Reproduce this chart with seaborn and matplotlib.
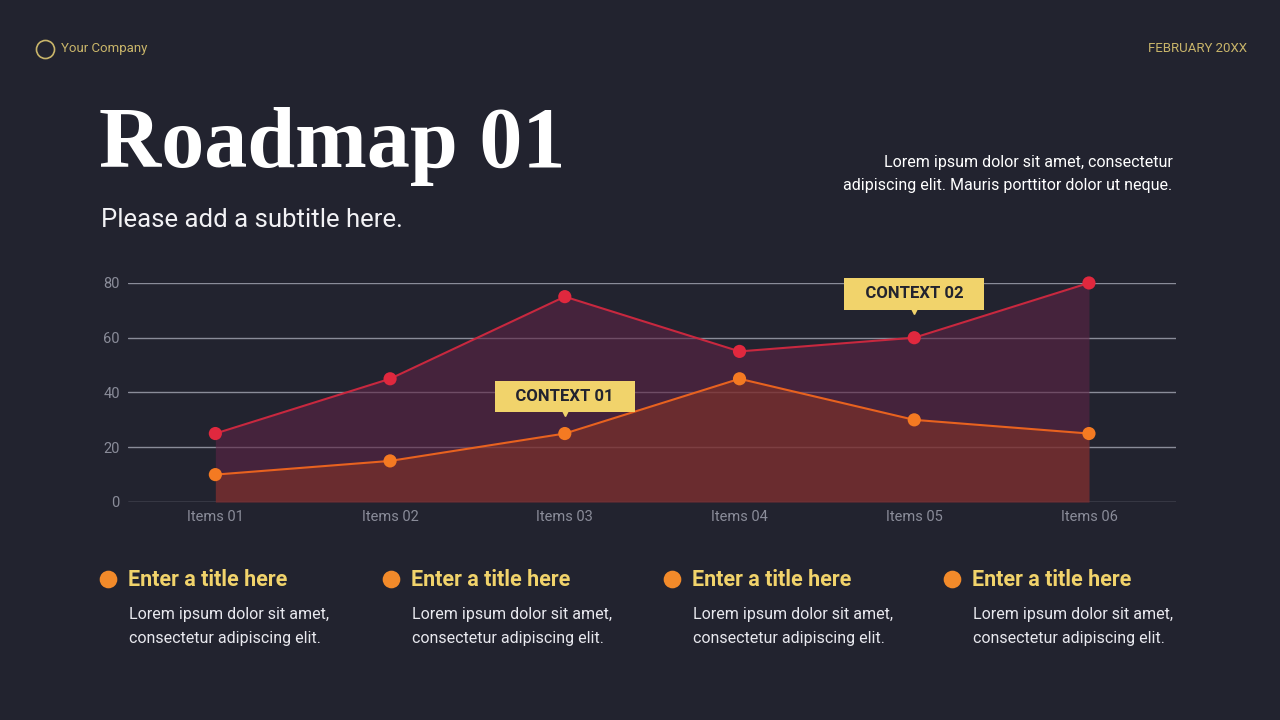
import matplotlib
matplotlib.use("Agg")
import matplotlib.pyplot as plt
import seaborn as sns
import pandas as pd
from matplotlib.lines import Line2D

categories = ["Items 01", "Items 02", "Items 03", "Items 04", "Items 05", "Items 06"]
series_a = [25, 45, 75, 55, 60, 80]
series_b = [10, 15, 25, 45, 30, 25]
yticks = [0, 20, 40, 60, 80]
card_titles = ["Enter a title here"] * 4
card_text = "Lorem ipsum dolor sit amet,\nconsectetur adipiscing elit."

BG = "#22232f"
RED = "#e0283e"
ORANGE = "#f47a22"
GOLD = "#f1d36b"

sns.set_theme(style="dark", rc={"font.family": "Roboto"})
fig = plt.figure(figsize=(12.8, 7.2), dpi=100, facecolor=BG)
ax = fig.add_axes([0.1, 0.3028, 0.819, 0.3042])
ax.set_facecolor(BG)

df = pd.DataFrame({"x": range(len(categories)), "a": series_a, "b": series_b})
ax.fill_between(df["x"], df["a"], color="#5e2345", alpha=0.6, lw=0, zorder=1)
ax.fill_between(df["x"], df["b"], color="#8a3526", alpha=0.55, lw=0, zorder=2)
sns.lineplot(data=df, x="x", y="a", ax=ax, color="#c8283f", lw=1.5, zorder=3)
sns.lineplot(data=df, x="x", y="b", ax=ax, color="#e8621f", lw=1.5, zorder=3)
sns.scatterplot(data=df, x="x", y="a", ax=ax, color=RED, s=90, edgecolor="none", zorder=4)
sns.scatterplot(data=df, x="x", y="b", ax=ax, color=ORANGE, s=90, edgecolor="none", zorder=4)
for c in ax.collections:
    c.set_clip_on(False)

ax.set_xlim(-0.5, 5.5)
ax.set_ylim(0, 80)
ax.set_xticks(range(len(categories)))
ax.set_xticklabels(categories)
ax.set_yticks(yticks)
ax.set_xlabel("")
ax.set_ylabel("")
for y in yticks:
    ax.axhline(y, color="#8a8c99", lw=1, zorder=0.5)
for s in ax.spines.values():
    s.set_visible(False)
ax.tick_params(colors="#8a8c99", labelsize=10.5, length=0, pad=6)
ax.grid(False)

def callout(xi, yv, label):
    ax.text(xi, yv, "   " + label + "   ", fontsize=12, fontweight="bold",
            color="#22232f", ha="center", va="center", zorder=6,
            bbox=dict(boxstyle="square,pad=0.5", fc=GOLD, ec="none"))
    ax.plot([xi], [yv - 5.8], marker="v", color=GOLD, ms=6, zorder=6, clip_on=False)
callout(2, 38.5, "CONTEXT 01")
callout(4, 76, "CONTEXT 02")

def dot(x, y, color, ms, fill=True):
    fig.add_artist(Line2D([x / 1280], [1 - y / 720], transform=fig.transFigure, marker="o",
                          ms=ms, color=color, mfc=color if fill else "none", mew=1.2, ls=""))

dot(45, 49, "#c9b56a", 13, fill=False)
fig.text(0.0477, 0.932, "Your Company", color="#c9b56a", fontsize=9.5, va="center")
fig.text(0.974, 0.932, "FEBRUARY 20XX", color="#c9b56a", fontsize=9.5, va="center", ha="right")
fig.text(0.077, 0.797, "Roadmap 01", color="white", fontsize=62, family="Liberation Serif",
         fontweight="bold", va="center")
fig.text(0.079, 0.695, "Please add a subtitle here.", color="#f2f2f5", fontsize=18.5,
         va="center")
fig.text(0.916, 0.758, "Lorem ipsum dolor sit amet, consectetur\nadipiscing elit. Mauris porttitor dolor ut neque.",
         color="white", fontsize=11.5, ha="right", va="center", linespacing=1.65)

xs = [108, 391, 672, 952]
for x, t in zip(xs, card_titles):
    dot(x, 579, "#f28a2a", 11.5)
    fig.text((x + 20) / 1280, 1 - 580 / 720, t, color=GOLD, fontsize=15.5, fontweight="bold", va="center")
    fig.text((x + 21) / 1280, 1 - 626 / 720, card_text, color="#e8e8ee", fontsize=11.5,
             va="center", linespacing=1.75)

fig.savefig("out.png", dpi=100, facecolor=BG)
